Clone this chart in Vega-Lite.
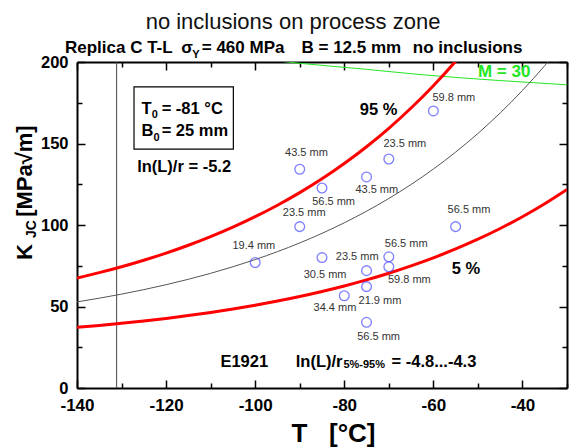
{
  "$schema": "https://vega.github.io/schema/vega-lite/v6.json",
  "width": 490,
  "height": 326,
  "autosize": {"type": "none"},
  "padding": {"left": 77, "top": 62, "right": 7, "bottom": 59},
  "background": "white",
  "config": {"view": {"stroke": null}, "font": "Liberation Sans", "axis": {"grid": false}},
  "title": {
    "text": "no inclusions on process zone",
    "font": "Liberation Sans",
    "fontSize": 22,
    "fontWeight": "normal",
    "color": "#111111",
    "anchor": "middle",
    "dx": -29,
    "baseline": "alphabetic",
    "offset": -12
  },
  "datasets": {
    "curves": [
      {"curve": "med", "T": -140, "K": 52.81}, {"curve": "med", "T": -135, "K": 55.09}, {"curve": "med", "T": -130, "K": 57.59},
      {"curve": "med", "T": -125, "K": 60.35}, {"curve": "med", "T": -120, "K": 63.37}, {"curve": "med", "T": -115, "K": 66.69},
      {"curve": "med", "T": -110, "K": 70.35}, {"curve": "med", "T": -105, "K": 74.37}, {"curve": "med", "T": -100, "K": 78.79},
      {"curve": "med", "T": -95, "K": 83.65}, {"curve": "med", "T": -90, "K": 89.0}, {"curve": "med", "T": -85, "K": 94.88},
      {"curve": "med", "T": -80, "K": 101.34}, {"curve": "med", "T": -75, "K": 108.46}, {"curve": "med", "T": -70, "K": 116.27},
      {"curve": "med", "T": -65, "K": 124.87}, {"curve": "med", "T": -60, "K": 134.32}, {"curve": "med", "T": -55, "K": 144.72},
      {"curve": "med", "T": -50, "K": 156.15}, {"curve": "med", "T": -45, "K": 168.73}, {"curve": "med", "T": -40, "K": 182.55},
      {"curve": "med", "T": -35, "K": 197.76}, {"curve": "med", "T": -30, "K": 214.47},
      {"curve": "p5", "T": -140, "K": 37.18}, {"curve": "p5", "T": -135, "K": 38.37}, {"curve": "p5", "T": -130, "K": 39.68},
      {"curve": "p5", "T": -125, "K": 41.12}, {"curve": "p5", "T": -120, "K": 42.7}, {"curve": "p5", "T": -115, "K": 44.44},
      {"curve": "p5", "T": -110, "K": 46.36}, {"curve": "p5", "T": -105, "K": 48.46}, {"curve": "p5", "T": -100, "K": 50.78},
      {"curve": "p5", "T": -95, "K": 53.32}, {"curve": "p5", "T": -90, "K": 56.12}, {"curve": "p5", "T": -85, "K": 59.2},
      {"curve": "p5", "T": -80, "K": 62.58}, {"curve": "p5", "T": -75, "K": 66.31}, {"curve": "p5", "T": -70, "K": 70.39},
      {"curve": "p5", "T": -65, "K": 74.9}, {"curve": "p5", "T": -60, "K": 79.84}, {"curve": "p5", "T": -55, "K": 85.29},
      {"curve": "p5", "T": -50, "K": 91.28}, {"curve": "p5", "T": -45, "K": 97.86}, {"curve": "p5", "T": -40, "K": 105.1},
      {"curve": "p5", "T": -35, "K": 113.05}, {"curve": "p5", "T": -30, "K": 121.8},
      {"curve": "p95", "T": -140, "K": 67.48}, {"curve": "p95", "T": -135, "K": 70.78}, {"curve": "p95", "T": -130, "K": 74.4},
      {"curve": "p95", "T": -125, "K": 78.39}, {"curve": "p95", "T": -120, "K": 82.77}, {"curve": "p95", "T": -115, "K": 87.57},
      {"curve": "p95", "T": -110, "K": 92.86}, {"curve": "p95", "T": -105, "K": 98.67}, {"curve": "p95", "T": -100, "K": 105.08},
      {"curve": "p95", "T": -95, "K": 112.11}, {"curve": "p95", "T": -90, "K": 119.85}, {"curve": "p95", "T": -85, "K": 128.35},
      {"curve": "p95", "T": -80, "K": 137.72}, {"curve": "p95", "T": -75, "K": 148.01}, {"curve": "p95", "T": -70, "K": 159.31},
      {"curve": "p95", "T": -65, "K": 171.77}, {"curve": "p95", "T": -60, "K": 185.44}, {"curve": "p95", "T": -55, "K": 200.5},
      {"curve": "p95", "T": -50, "K": 217.04},
      {"curve": "m30", "T": -98, "K": 201.5}, {"curve": "m30", "T": -90, "K": 199.2}, {"curve": "m30", "T": -75, "K": 195.5},
      {"curve": "m30", "T": -63, "K": 192.3}, {"curve": "m30", "T": -45, "K": 188.6}, {"curve": "m30", "T": -30, "K": 186.0}
    ],
    "points": [
      {"T": -60, "K": 170}, {"T": -70, "K": 140.5}, {"T": -75, "K": 129.5}, {"T": -85, "K": 122.7},
      {"T": -90, "K": 134.2}, {"T": -90, "K": 99}, {"T": -100, "K": 77}, {"T": -55, "K": 99},
      {"T": -85, "K": 80}, {"T": -75, "K": 72}, {"T": -70, "K": 80.5}, {"T": -70, "K": 74.4},
      {"T": -75, "K": 62.2}, {"T": -80, "K": 56.6}, {"T": -75, "K": 40.3}
    ],
    "labels": [
      {"text": "59.8 mm", "T": -55.4, "K": 178}, {"text": "23.5 mm", "T": -66.4, "K": 149.7},
      {"text": "43.5 mm", "T": -72.7, "K": 121.5}, {"text": "56.5 mm", "T": -82.4, "K": 114},
      {"text": "43.5 mm", "T": -88.5, "K": 144}, {"text": "23.5 mm", "T": -89.0, "K": 107.2},
      {"text": "19.4 mm", "T": -100.3, "K": 87.3}, {"text": "56.5 mm", "T": -52, "K": 109.2},
      {"text": "30.5 mm", "T": -84.3, "K": 69.3}, {"text": "23.5 mm", "T": -77.1, "K": 80.5},
      {"text": "56.5 mm", "T": -66.1, "K": 88.3}, {"text": "59.8 mm", "T": -65.4, "K": 66.3},
      {"text": "21.9 mm", "T": -72, "K": 53.6}, {"text": "34.4 mm", "T": -82.1, "K": 48.9},
      {"text": "56.5 mm", "T": -72.3, "K": 31.5}
    ],
    "notes": [
      {"role": "note", "text": "T", "T": -125.5, "K": 171},
      {"role": "note", "text": "= -81 °C", "T": -121.0, "K": 171},
      {"role": "note", "text": "B", "T": -125.5, "K": 157.4},
      {"role": "note", "text": "= 25 mm", "T": -121.0, "K": 157.4},
      {"role": "note", "text": "ln(L)/r = -5.2", "T": -126.5, "K": 135.4},
      {"role": "note", "text": "95 %", "T": -76.5, "K": 170.6},
      {"role": "note", "text": "5 %", "T": -55.9, "K": 73},
      {"role": "note", "text": "E1921", "T": -107.8, "K": 16.1},
      {"role": "note", "text": "ln(L)/r", "T": -90.9, "K": 16.1},
      {"role": "note", "text": "= -4.8...-4.3", "T": -69.4, "K": 16.1},
      {"role": "sub", "text": "0", "T": -123.2, "K": 167.5},
      {"role": "sub", "text": "0", "T": -122.8, "K": 153.4},
      {"role": "sub", "text": "5%-95%", "T": -80.2, "K": 14.1},
      {"role": "header", "text": "Replica C T-L", "T": -142.7, "K": 208.4},
      {"role": "header", "text": "σ", "T": -116.6, "K": 208.4},
      {"role": "header", "text": "= 460 MPa", "T": -112.0, "K": 208.4},
      {"role": "header", "text": "B = 12.5 mm", "T": -89.6, "K": 208.4},
      {"role": "header", "text": "no inclusions", "T": -64.6, "K": 208.4},
      {"role": "headerSub", "text": "Y", "T": -114.1, "K": 204.3},
      {"role": "m30", "text": "M = 30", "T": -50, "K": 193.6},
      {"role": "yTitle", "text": "K", "T": -150.2, "K": 78.5},
      {"role": "yTitle", "text": "[MPa√m]", "T": -150.2, "K": 105},
      {"role": "yTitleSub", "text": "JC", "T": -149.3, "K": 92}
    ],
    "box": [{"T": -127.2, "T2": -104.9, "K": 146.6, "K2": 184.8}],
    "ref": [{"T": -131.1, "K": 0, "K2": 200}]
  },
  "layer": [
    {
      "encoding": {
        "x": {
          "field": "T", "type": "quantitative",
          "scale": {"domain": [-140, -30], "nice": false, "zero": false},
          "axis": {
            "orient": "bottom",
            "values": [-140, -130, -120, -110, -100, -90, -80, -70, -60, -50, -40, -30],
            "labelExpr": "datum.value % 20 === 0 ? '' + datum.value : ''",
            "tickSize": {"condition": {"test": "datum.value % 20 === 0", "value": -8}, "value": -5},
            "tickColor": "black", "tickWidth": 1.5,
            "domainColor": "black", "domainWidth": 2,
            "labelFont": "Liberation Sans", "labelFontSize": 17, "labelFontWeight": "bold", "labelColor": "black",
            "labelPadding": 17, "labelFlush": false, "labelOverlap": false,
            "title": "T\u00a0\u00a0\u00a0[°C]", "titleFont": "Liberation Sans", "titleFontSize": 26, "titleFontWeight": "bold",
            "titleColor": "black", "titleX": 256, "titleY": 53, "titleBaseline": "alphabetic", "titleAlign": "center"
          }
        },
        "y": {
          "field": "K", "type": "quantitative",
          "scale": {"domain": [0, 200], "nice": false, "zero": false},
          "axis": {
            "orient": "left",
            "values": [0, 25, 50, 75, 100, 125, 150, 175, 200],
            "labelExpr": "datum.value % 50 === 0 ? '' + datum.value : ''",
            "tickSize": {"condition": {"test": "datum.value % 50 === 0", "value": -8}, "value": -5},
            "tickColor": "black", "tickWidth": 1.5,
            "domainColor": "black", "domainWidth": 2,
            "labelFont": "Liberation Sans", "labelFontSize": 16.5, "labelFontWeight": "bold", "labelColor": "black",
            "labelPadding": 17, "labelFlush": false, "labelOverlap": false,
            "title": null
          }
        }
      },
      "layer": [
        {
          "data": {"name": "box"},
          "mark": {"type": "rect", "fill": null, "stroke": "black", "strokeWidth": 1.2},
          "encoding": {"x2": {"field": "T2"}, "y2": {"field": "K2"}}
        },
        {
          "data": {"name": "ref"},
          "mark": {"type": "rule", "color": "#444444", "strokeWidth": 1},
          "encoding": {"y2": {"field": "K2"}}
        },
        {
          "data": {"name": "curves"},
          "transform": [{"filter": "datum.curve === 'm30'"}],
          "mark": {"type": "line", "color": "#22e622", "strokeWidth": 1, "clip": true, "interpolate": "monotone"},
          "encoding": {}
        },
        {
          "data": {"name": "curves"},
          "transform": [{"filter": "datum.curve === 'med'"}],
          "mark": {"type": "line", "color": "#555555", "strokeWidth": 1, "clip": true, "interpolate": "monotone"},
          "encoding": {}
        },
        {
          "data": {"name": "curves"},
          "transform": [{"filter": "datum.curve === 'p5' || datum.curve === 'p95'"}],
          "mark": {"type": "line", "color": "#ff0000", "strokeWidth": 3, "clip": true, "interpolate": "monotone"},
          "encoding": {"detail": {"field": "curve"}}
        },
        {
          "data": {"name": "points"},
          "mark": {"type": "point", "shape": "circle", "filled": false, "color": "#4a4aff", "strokeWidth": 1.3, "size": 95},
          "encoding": {}
        },
        {
          "data": {"name": "labels"},
          "mark": {"type": "text", "font": "Liberation Sans", "fontSize": 11, "color": "#333333", "align": "center", "baseline": "middle"},
          "encoding": {"text": {"field": "text"}}
        },
        {
          "data": {"name": "notes"},
          "transform": [{"filter": "datum.role === 'note'"}],
          "mark": {"type": "text", "font": "Liberation Sans", "fontSize": 16.5, "fontWeight": "bold", "color": "black", "align": "left", "baseline": "middle"},
          "encoding": {"text": {"field": "text"}}
        },
        {
          "data": {"name": "notes"},
          "transform": [{"filter": "datum.role === 'sub'"}],
          "mark": {"type": "text", "font": "Liberation Sans", "fontSize": 11, "fontWeight": "bold", "color": "black", "align": "left", "baseline": "middle"},
          "encoding": {"text": {"field": "text"}}
        },
        {
          "data": {"name": "notes"},
          "transform": [{"filter": "datum.role === 'header'"}],
          "mark": {"type": "text", "font": "Liberation Sans", "fontSize": 17, "fontWeight": "bold", "color": "black", "align": "left", "baseline": "middle"},
          "encoding": {"text": {"field": "text"}}
        },
        {
          "data": {"name": "notes"},
          "transform": [{"filter": "datum.role === 'headerSub'"}],
          "mark": {"type": "text", "font": "Liberation Sans", "fontSize": 11, "fontWeight": "bold", "color": "black", "align": "left", "baseline": "middle"},
          "encoding": {"text": {"field": "text"}}
        },
        {
          "data": {"name": "notes"},
          "transform": [{"filter": "datum.role === 'm30'"}],
          "mark": {"type": "text", "font": "Liberation Sans", "fontSize": 17, "fontWeight": "bold", "color": "#22e622", "align": "left", "baseline": "middle"},
          "encoding": {"text": {"field": "text"}}
        },
        {
          "data": {"name": "notes"},
          "transform": [{"filter": "datum.role === 'yTitle'"}],
          "mark": {"type": "text", "font": "Liberation Sans", "fontSize": 22, "fontWeight": "bold", "color": "black", "align": "left", "baseline": "alphabetic", "angle": 270},
          "encoding": {"text": {"field": "text"}}
        },
        {
          "data": {"name": "notes"},
          "transform": [{"filter": "datum.role === 'yTitleSub'"}],
          "mark": {"type": "text", "font": "Liberation Sans", "fontSize": 14, "fontWeight": "bold", "color": "black", "align": "left", "baseline": "alphabetic", "angle": 270},
          "encoding": {"text": {"field": "text"}}
        }
      ]
    },
    {
      "data": {"name": "points"},
      "mark": {"type": "point", "opacity": 0},
      "encoding": {
        "x": {
          "field": "T", "type": "quantitative",
          "scale": {"domain": [-140, -30], "nice": false, "zero": false},
          "axis": {
            "orient": "top",
            "values": [-140, -130, -120, -110, -100, -90, -80, -70, -60, -50, -40, -30],
            "labels": false, "title": null,
            "tickSize": {"condition": {"test": "datum.value % 20 === 0", "value": -8}, "value": -5},
            "tickColor": "black", "tickWidth": 1.5,
            "domainColor": "black", "domainWidth": 2
          }
        },
        "y": {
          "field": "K", "type": "quantitative",
          "scale": {"domain": [0, 200], "nice": false, "zero": false},
          "axis": {
            "orient": "right",
            "values": [0, 25, 50, 75, 100, 125, 150, 175, 200],
            "labels": false, "title": null,
            "tickSize": {"condition": {"test": "datum.value % 50 === 0", "value": -8}, "value": -5},
            "tickColor": "black", "tickWidth": 1.5,
            "domainColor": "black", "domainWidth": 2
          }
        }
      }
    }
  ],
  "resolve": {"axis": {"x": "independent", "y": "independent"}}
}
